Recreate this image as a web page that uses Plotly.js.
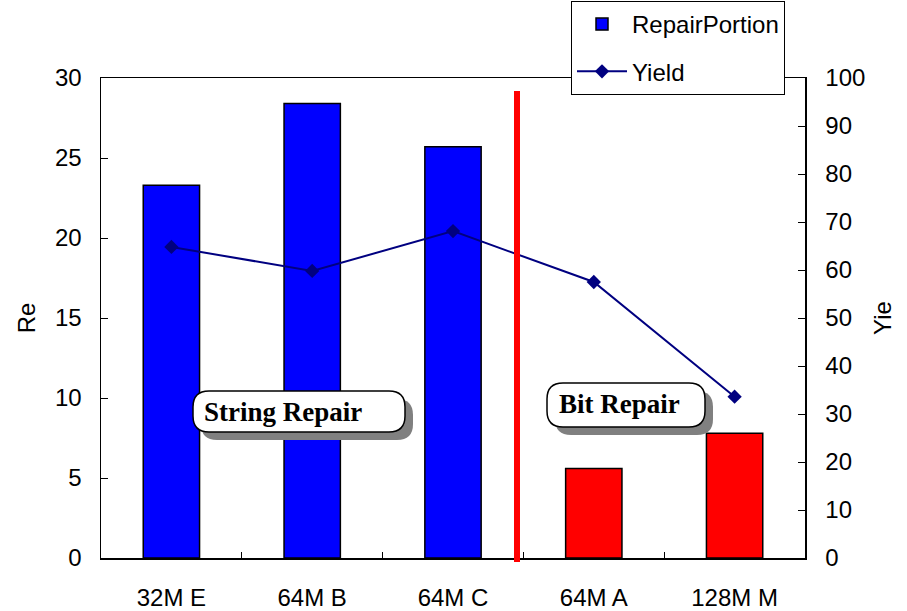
<!DOCTYPE html>
<html>
<head>
<meta charset="utf-8">
<script src="https://cdn.plot.ly/plotly-3.0.1.min.js"></script>
<style>html,body{margin:0;padding:0;background:#fff;}#chart{width:907px;height:611px;}</style>
</head>
<body>
<div id="chart"></div>
<script>
const categories = ["32M E", "64M B", "64M C", "64M A", "128M M"];
const repairPortion = [23.3, 28.4, 25.7, 5.6, 7.8];
const barColors = ["#0000FF", "#0000FF", "#0000FF", "#FF0000", "#FF0000"];
const yieldValues = [64.8, 59.8, 68.1, 57.5, 33.6];
const leftTicks = [0, 5, 10, 15, 20, 25, 30];
const rightTicks = [0, 10, 20, 30, 40, 50, 60, 70, 80, 90, 100];

// layout geometry (pixels -> paper)
const W = 907, H = 611, L = 101, R = 805, T = 78, B = 558;
const px = v => (v - L) / (R - L);
const py = v => (B - v) / (B - T);

function roundRect(x0, y0, x1, y1, r) {
  const X0 = px(x0), X1 = px(x1), Y0 = py(y0), Y1 = py(y1);
  const rx = r / (R - L), ry = r / (B - T);
  return `M ${X0 + rx},${Y0} L ${X1 - rx},${Y0} Q ${X1},${Y0} ${X1},${Y0 - ry} ` +
         `L ${X1},${Y1 + ry} Q ${X1},${Y1} ${X1 - rx},${Y1} L ${X0 + rx},${Y1} ` +
         `Q ${X0},${Y1} ${X0},${Y1 + ry} L ${X0},${Y0 - ry} Q ${X0},${Y0} ${X0 + rx},${Y0} Z`;
}

const labelBox = (x0, y0, x1, y1) => [
  {type: "path", xref: "paper", yref: "paper", path: roundRect(x0 + 8, y0 + 8, x1 + 8, y1 + 8, 16),
   fillcolor: "#808080", line: {width: 0}, layer: "above"},
  {type: "path", xref: "paper", yref: "paper", path: roundRect(x0, y0, x1, y1, 16),
   fillcolor: "#FFFFFF", line: {color: "#000000", width: 1.5}, layer: "above"}
];

const traces = [
  {
    type: "bar", name: "RepairPortion", x: categories, y: repairPortion,
    marker: {color: barColors, line: {color: "#000000", width: 1.5}},
    yaxis: "y", legendgroup: "a", hoverinfo: "x+y"
  },
  {
    type: "scatter", mode: "lines+markers", name: "Yield", x: categories, y: yieldValues,
    line: {color: "#000080", width: 2}, marker: {symbol: "diamond", size: 11, color: "#000080"},
    yaxis: "y2", legendgroup: "b"
  }
];

const tickFont = {family: "Liberation Sans, Arial, sans-serif", size: 24, color: "#000"};
const titleFont = {family: "Liberation Sans, Arial, sans-serif", size: 24, color: "#000"};

const layout = {
  width: W, height: H,
  margin: {l: L, r: W - R, t: T, b: H - B, pad: 0, autoexpand: false},
  paper_bgcolor: "#fff", plot_bgcolor: "#fff",
  bargap: 0.6,
  showlegend: true,
  legend: {
    x: px(571), y: py(1), xanchor: "left", yanchor: "top",
    bgcolor: "#fff", bordercolor: "#000", borderwidth: 1,
    font: {family: "Liberation Sans, Arial, sans-serif", size: 24, color: "#000"},
    tracegroupgap: 13, itemwidth: 50
  },
  xaxis: {
    type: "category", tickfont: tickFont, showline: true, linecolor: "#000", linewidth: 1.5,
    mirror: true, ticks: "inside", ticklen: 6, tickcolor: "#000", tickson: "boundaries",
    showgrid: false, zeroline: false, ticklabelstandoff: 18
  },
  yaxis: {
    range: [0, 30], tickvals: leftTicks, tickfont: tickFont, showline: true, linecolor: "#000",
    linewidth: 1.5, mirror: true, ticks: "inside", ticklen: 7, tickcolor: "#000",
    showgrid: false, zeroline: false, ticklabelstandoff: 13,
    title: {text: "Re", font: titleFont, standoff: 12}
  },
  yaxis2: {
    range: [0, 100], tickvals: rightTicks, tickfont: tickFont, overlaying: "y", side: "right",
    showline: true, linecolor: "#000", linewidth: 1.5, ticks: "inside", ticklen: 7, tickcolor: "#000",
    showgrid: false, zeroline: false, ticklabelstandoff: 14,
    title: {text: "Yie", font: titleFont, standoff: 10}
  },
  shapes: [
    {type: "line", xref: "paper", yref: "paper", x0: px(517), x1: px(517), y0: py(91), y1: py(562),
     line: {color: "#FF0000", width: 6}, layer: "above"},
    ...labelBox(193, 391, 405, 432),
    ...labelBox(547, 383, 705, 427)
  ],
  annotations: [
    {xref: "paper", yref: "paper", x: px(283), y: py(412), xanchor: "center", yanchor: "middle",
     text: "<b>String Repair</b>", showarrow: false,
     font: {family: "Liberation Serif, Times New Roman, serif", size: 27, color: "#000"}},
    {xref: "paper", yref: "paper", x: px(619), y: py(404), xanchor: "center", yanchor: "middle",
     text: "<b>Bit Repair</b>", showarrow: false,
     font: {family: "Liberation Serif, Times New Roman, serif", size: 27, color: "#000"}}
  ]
};

Plotly.newPlot("chart", traces, layout, {displayModeBar: false, staticPlot: true});
</script>
</body>
</html>
